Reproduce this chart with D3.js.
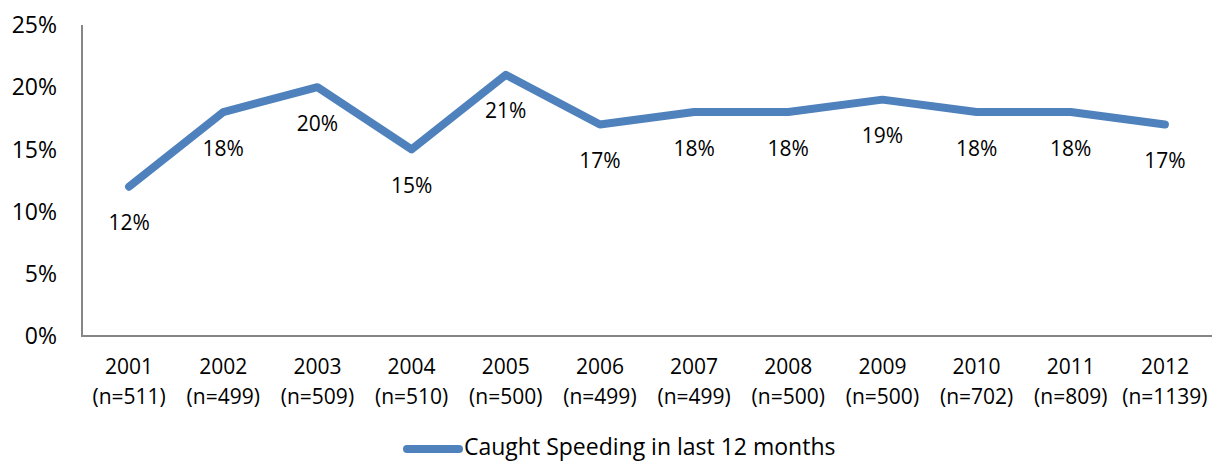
<!DOCTYPE html>
<html>
<head>
<meta charset="utf-8">
<script src="https://cdn.jsdelivr.net/npm/d3@7"></script>
<style>
  html, body { margin: 0; padding: 0; background: #fff; }
  svg { display: block; font-family: "Open Sans", "Noto Sans", sans-serif; }
</style>
</head>
<body>
<div class="chart"></div>
<script>
var years = ["2001", "2002", "2003", "2004", "2005", "2006", "2007", "2008", "2009", "2010", "2011", "2012"];
var sampleSizes = ["(n=511)", "(n=499)", "(n=509)", "(n=510)", "(n=500)", "(n=499)", "(n=499)", "(n=500)", "(n=500)", "(n=702)", "(n=809)", "(n=1139)"];
var caughtSpeeding = [12, 18, 20, 15, 21, 17, 18, 18, 19, 18, 18, 17];
var yTicks = [0, 5, 10, 15, 20, 25];
var seriesName = "Caught Speeding in last 12 months";

var width = 1212, height = 461;
var lineColor = "#4f81bd";
var axisColor = "#868686";

var svg = d3.select(".chart")
    .append("svg")
    .attr("width", width)
    .attr("height", height);

var x = d3.scalePoint()
    .domain(years)
    .range([82, 1212])
    .padding(0.5);

var y = d3.scaleLinear()
    .domain([0, 25])
    .range([336, 25]);

// y labels
svg.selectAll(".ylab")
    .data(yTicks)
    .enter().append("text")
    .attr("class", "ylab")
    .attr("x", 57)
    .attr("y", function(d) { return y(d); })
    .attr("dy", "0.36em")
    .attr("text-anchor", "end")
    .attr("font-size", 23)
    .attr("fill", "#000")
    .text(function(d) { return d + "%"; });

// axes lines
svg.append("line")
    .attr("x1", 82).attr("x2", 82)
    .attr("y1", y(25)).attr("y2", y(0))
    .attr("stroke", axisColor).attr("stroke-width", 2);

svg.append("line")
    .attr("x1", 81).attr("x2", 1212)
    .attr("y1", y(0)).attr("y2", y(0))
    .attr("stroke", axisColor).attr("stroke-width", 2);

// category labels
var cats = svg.selectAll(".cat")
    .data(years)
    .enter().append("g")
    .attr("class", "cat")
    .attr("transform", function(d) { return "translate(" + x(d) + ",0)"; });

cats.append("text")
    .attr("y", 374)
    .attr("text-anchor", "middle")
    .attr("font-size", 21)
    .text(function(d) { return d; });

cats.append("text")
    .attr("y", 404)
    .attr("text-anchor", "middle")
    .attr("font-size", 21)
    .text(function(d, i) { return sampleSizes[i]; });

// series line
var line = d3.line()
    .x(function(d, i) { return x(years[i]); })
    .y(function(d) { return y(d); });

svg.append("path")
    .datum(caughtSpeeding)
    .attr("d", line)
    .attr("fill", "none")
    .attr("stroke", lineColor)
    .attr("stroke-width", 8)
    .attr("stroke-linecap", "round")
    .attr("stroke-linejoin", "round");

// data labels, below each point
svg.selectAll(".dlab")
    .data(caughtSpeeding)
    .enter().append("text")
    .attr("class", "dlab")
    .attr("x", function(d, i) { return x(years[i]); })
    .attr("y", function(d) { return y(d) + 36; })
    .attr("dy", "0.36em")
    .attr("text-anchor", "middle")
    .attr("font-size", 21)
    .text(function(d) { return d + "%"; });

// legend
svg.append("line")
    .attr("x1", 407).attr("x2", 459)
    .attr("y1", 449).attr("y2", 449)
    .attr("stroke", lineColor)
    .attr("stroke-width", 8)
    .attr("stroke-linecap", "round");

svg.append("text")
    .attr("x", 464)
    .attr("y", 455)
    .attr("font-size", 23)
    .text(seriesName);
</script>
</body>
</html>
